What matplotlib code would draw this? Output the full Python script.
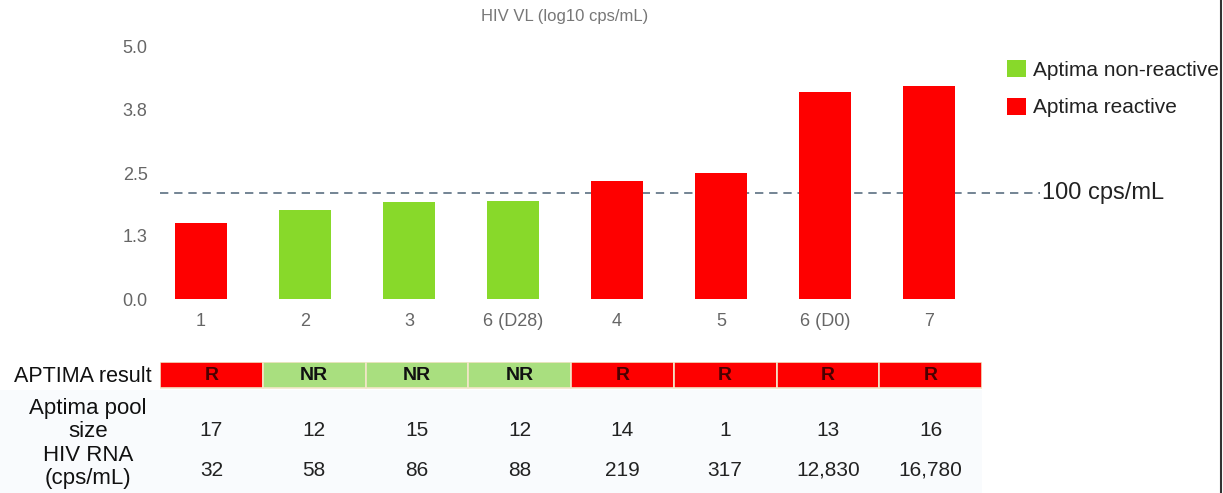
import matplotlib.pyplot as plt
from matplotlib.patches import Patch, Rectangle
from matplotlib.lines import Line2D

plt.rcParams['font.family'] = ['Liberation Sans', 'DejaVu Sans']

# data
samples = ['1', '2', '3', '6 (D28)', '4', '5', '6 (D0)', '7']
log_vl = [1.51, 1.76, 1.93, 1.94, 2.34, 2.50, 4.11, 4.22]
reactive = [True, False, False, False, True, True, True, True]
aptima_result = ['R', 'NR', 'NR', 'NR', 'R', 'R', 'R', 'R']
pool_size = ['17', '12', '15', '12', '14', '1', '13', '16']
hiv_rna = ['32', '58', '86', '88', '219', '317', '12,830', '16,780']
y_ticks = [0, 1.25, 2.5, 3.75, 5.0]
y_tick_labels = ['0.0', '1.3', '2.5', '3.8', '5.0']
threshold = 2.1

RED = '#fe0000'
GREEN = '#88d92a'
LIGHT_GREEN = '#a9df7f'

W, H = 1223, 493
fig = plt.figure(figsize=(W / 100, H / 100), dpi=100)


def box(x0, y0, x1, y1):
    # pixel box (top-left origin) -> figure fraction
    return [x0 / W, 1 - y1 / H, (x1 - x0) / W, (y1 - y0) / H]


# faint tint behind the lower table rows
fig.add_artist(Rectangle((0, 0), 982 / W, 1 - 390 / H, transform=fig.transFigure,
                         facecolor='#f9fbfd', edgecolor='none', zorder=0))

ax = fig.add_axes(box(160, 47, 1040, 299))
x = list(range(len(samples)))
colors = [RED if r else GREEN for r in reactive]
ax.bar(x, log_vl, width=0.5, color=colors, zorder=2)
ax.axhline(threshold, color='#5b6f82', lw=1.2, ls=(0, (5, 3.5)), zorder=1)

ax.set_xlim(-0.394, 8.067)
ax.set_ylim(0, 5)
ax.set_yticks(y_ticks)
ax.set_yticklabels(y_tick_labels)
ax.set_xticks(x)
ax.set_xticklabels(samples)
ax.tick_params(axis='y', length=0, pad=9, labelsize=13, labelcolor='#666666')
ax.tick_params(axis='x', length=0, pad=10, labelsize=13, labelcolor='#666666')
for s in ax.spines.values():
    s.set_visible(False)
ax.patch.set_alpha(0)

fig.text(565 / W, 1 - 17 / H, 'HIV VL (log10 cps/mL)', ha='center', va='center',
         fontsize=12, color='#777777')
fig.text(1042 / W, 1 - 193 / H, '100 cps/mL', ha='left', va='center',
         fontsize=17, color='#222222')

handles = [Patch(facecolor=GREEN, label='Aptima non-reactive'),
           Patch(facecolor=RED, label='Aptima reactive')]
fig.legend(handles=handles, loc='upper left', bbox_to_anchor=(1007 / W, 1 - 60 / H),
           frameon=False, fontsize=15, handlelength=0.9, handleheight=0.9,
           handletextpad=0.35, labelspacing=0.85, borderpad=0, borderaxespad=0,
           labelcolor='#222222')

# table below the chart
tab = fig.add_axes(box(160, 362, 982, 493))
tab.set_xlim(0, len(samples))
tab.set_ylim(131, 0)
tab.axis('off')
for i, res in enumerate(aptima_result):
    fc = RED if res == 'R' else LIGHT_GREEN
    tab.add_patch(Rectangle((i, 0), 1, 26, facecolor=fc, edgecolor='#f3e6c8', lw=1.2))
    tab.text(i + 0.5, 14, res, ha='center', va='center', fontsize=14, fontweight='bold',
             color='#4a0000' if res == 'R' else '#111111')
    tab.text(i + 0.5, 68, pool_size[i], ha='center', va='center', fontsize=15, color='#222222')
    tab.text(i + 0.5, 108, hiv_rna[i], ha='center', va='center', fontsize=15, color='#222222')

fig.text(152 / W, 1 - 376 / H, 'APTIMA result', ha='right', va='center',
         fontsize=15.5, color='#111111')
fig.text(88 / W, 1 - 420 / H, 'Aptima pool\nsize', ha='center', va='center',
         fontsize=16, color='#111111', linespacing=1.08)
fig.text(88 / W, 1 - 467 / H, 'HIV RNA\n(cps/mL)', ha='center', va='center',
         fontsize=16, color='#111111', linespacing=1.08)

# dark border at the right edge
fig.add_artist(Line2D([1221 / W, 1221 / W], [0, 1], transform=fig.transFigure,
                      color='#333333', lw=1.5))

fig.savefig('out.png', dpi=100)
